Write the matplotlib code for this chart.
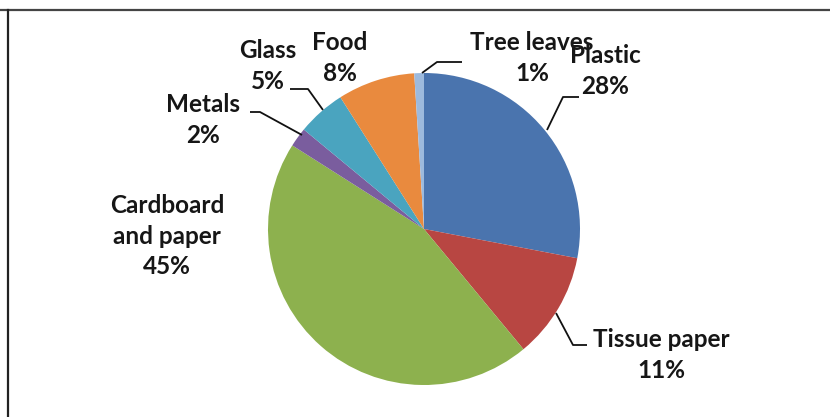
import matplotlib.pyplot as plt
from matplotlib.lines import Line2D

# waste composition, clockwise from 12 o'clock
categories = ["Plastic", "Tissue paper", "Cardboard\nand paper", "Metals", "Glass", "Food", "Tree leaves"]
shares = [28, 11, 45, 2, 5, 8, 1]
slice_colors = ["#4A74AE", "#B84642", "#8DB14E", "#7A5D9E", "#4AA4BF", "#E98A3E", "#9DBADD"]

# label centres (image pixels, y down) and leader polylines
label_pos = [(605, 71), (661, 355), (167, 236), (203, 120), (268, 66), (340, 58), (532, 58)]
leaders = [
    [(547, 130), (563, 97), (579, 97)],
    [(556, 313), (573, 345), (587, 345)],
    None,
    [(250, 112), (260, 112), (302, 135)],
    [(290, 89), (308, 89), (323, 110)],
    None,
    [(422, 73), (437, 62), (462, 62)],
]

W, H = 830, 417
fig = plt.figure(figsize=(W / 100, H / 100), dpi=100)
ax = fig.add_axes([0, 0, 1, 1])

ax.pie(shares, colors=slice_colors, startangle=90, counterclock=False,
       center=(424, H - 229), radius=156, frame=True,
       wedgeprops=dict(linewidth=0))
ax.set_xlim(0, W)
ax.set_ylim(0, H)
ax.set_aspect("equal")
ax.axis("off")

font = dict(family=["Lato", "DejaVu Sans"], fontweight="bold", fontsize=17.5, color="#161616")
for name, val, (x, y) in zip(categories, shares, label_pos):
    ax.text(x, H - y, f"{name}\n{val}%", ha="center", va="center",
            linespacing=1.38, **font)

for pts in leaders:
    if pts is None:
        continue
    xs = [p[0] for p in pts]
    ys = [H - p[1] for p in pts]
    ax.plot(xs, ys, color="#111111", lw=1.3, solid_capstyle="butt")

# frame: top and left edges of the screenshot box
fig.add_artist(Line2D([0, 1], [1 - 9.5 / H] * 2, color="#444444", lw=1.6, transform=fig.transFigure))
fig.add_artist(Line2D([8 / W] * 2, [0, 1 - 9.5 / H], color="#222222", lw=1.6, transform=fig.transFigure))

fig.savefig("out.png", dpi=100)
